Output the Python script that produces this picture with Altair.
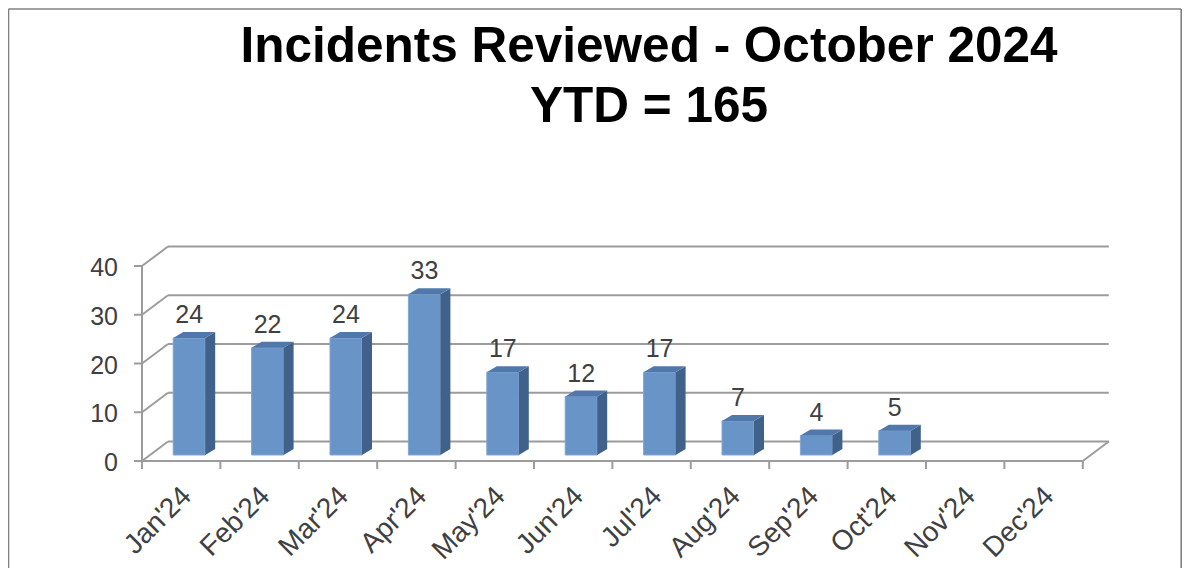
import altair as alt
import pandas as pd

# ---------------- data ----------------
months = ["Jan'24", "Feb'24", "Mar'24", "Apr'24", "May'24", "Jun'24",
          "Jul'24", "Aug'24", "Sep'24", "Oct'24", "Nov'24", "Dec'24"]
values = [24, 22, 24, 33, 17, 12, 17, 7, 4, 5, None, None]
y_ticks = [0, 10, 20, 30, 40]
title_line1 = "Incidents Reviewed - October 2024"
title_line2 = "YTD = 165"

# ---------------- geometry / style constants ----------------
W, H = 1174, 560          # plot frame (= whole bordered chart)
KX, KY = 78.4, 4.875      # px per month, px per count
X0, Y0 = 134, 453         # frame px of front-left floor corner
DX, DY = 26 / KX, 19.5 / KY   # wall depth (in data units)
BW = 32 / KX                  # bar width
FX, FY = 8 / KX, 6 / KY       # bar front-face depth offset
SX, SY = 10 / KX, 6 / KY      # bar depth
N = len(months)

GRID = "#9c9c9c"
TXT = "#404040"
FRONT, SIDE, TOP = "#6894c8", "#40618a", "#5078aa"
FONT = "Liberation Sans"

XMIN, XMAX = -X0 / KX, (W - X0) / KX
YMIN, YMAX = -(H - Y0) / KY, Y0 / KY
xs = alt.Scale(domain=[XMIN, XMAX], nice=False, zero=False)
ys = alt.Scale(domain=[YMIN, YMAX], nice=False, zero=False)

# ---------------- outer border (left, top, right) ----------------
XL, XR, YT = XMIN + 0.5 / KX, XMAX - 0.8 / KX, YMAX - 1 / KY
border = pd.DataFrame([
    dict(x=XL, y=YMIN, x2=XL, y2=YT),
    dict(x=XL, y=YT, x2=XR, y2=YT),
    dict(x=XR, y=YMIN, x2=XR, y2=YT),
])
frame = alt.Chart(border).mark_rule(color="#808080", strokeWidth=1.6).encode(
    x=alt.X("x:Q", scale=xs, axis=None),
    y=alt.Y("y:Q", scale=ys, axis=None),
    x2="x2:Q", y2="y2:Q",
)

# ---------------- 3D frame lines ----------------
segs = []
for g in y_ticks:
    segs.append(dict(x=DX, y=g + DY, x2=N + DX, y2=g + DY))   # back wall grid
    segs.append(dict(x=0, y=g, x2=DX, y2=g + DY))             # side wall grid
    segs.append(dict(x=0, y=g, x2=-8 / KX, y2=g))             # y ticks
segs.append(dict(x=0, y=0, x2=N, y2=0))                       # front floor edge
segs.append(dict(x=N, y=0, x2=N + DX, y2=DY))                 # right floor edge
segs.append(dict(x=0, y=0, x2=0, y2=y_ticks[-1]))             # vertical axis
for i in range(N + 1):
    segs.append(dict(x=i, y=0, x2=i, y2=-8 / KY))             # x ticks
segs = pd.DataFrame(segs)

lines = alt.Chart(segs).mark_rule(color=GRID, strokeWidth=2).encode(
    x=alt.X("x:Q", scale=xs, axis=None),
    y=alt.Y("y:Q", scale=ys, axis=None),
    x2="x2:Q",
    y2="y2:Q",
)

# ---------------- bars ----------------
rows = []
for i, (m, v) in enumerate(zip(months, values)):
    if v is None:
        continue
    xl = i + 0.5 - BW / 2 + FX
    rows.append(dict(month=m, value=v, xl=xl, xr=xl + BW, yb=FY, yt=v + FY,
                     xc=xl + BW / 2, ylab=v + FY + SY))
bars = pd.DataFrame(rows)

side_rows, top_rows = [], []
for r in rows:
    side_rows.append(dict(month=r["month"], x=r["xr"], lo=r["yb"], hi=r["yt"]))
    side_rows.append(dict(month=r["month"], x=r["xr"] + SX, lo=r["yb"] + SY, hi=r["yt"] + SY))
    vt = r["yt"]
    top_rows.append(dict(month=r["month"], x=r["xl"], lo=vt, hi=vt))
    top_rows.append(dict(month=r["month"], x=r["xl"] + SX, lo=vt, hi=vt + SY))
    top_rows.append(dict(month=r["month"], x=r["xr"], lo=vt, hi=vt + SY))
    top_rows.append(dict(month=r["month"], x=r["xr"] + SX, lo=vt + SY, hi=vt + SY))
side = pd.DataFrame(side_rows)
top = pd.DataFrame(top_rows)

front_face = alt.Chart(bars).mark_rect(
    color=FRONT, stroke="#82a6d3", strokeWidth=1
).encode(
    x=alt.X("xl:Q", scale=xs, axis=None), x2="xr:Q",
    y=alt.Y("yb:Q", scale=ys, axis=None), y2="yt:Q",
)
side_face = alt.Chart(side).mark_area(color=SIDE, orient="vertical").encode(
    x=alt.X("x:Q", scale=xs, axis=None),
    y=alt.Y("lo:Q", scale=ys, axis=None, stack=None), y2="hi:Q",
    detail="month:N",
)
top_face = alt.Chart(top).mark_area(color=TOP, orient="vertical").encode(
    x=alt.X("x:Q", scale=xs, axis=None),
    y=alt.Y("lo:Q", scale=ys, axis=None, stack=None), y2="hi:Q",
    detail="month:N",
)

value_labels = alt.Chart(bars).mark_text(
    font=FONT, fontSize=25, color=TXT, baseline="alphabetic", dy=-9
).encode(
    x=alt.X("xc:Q", scale=xs, axis=None),
    y=alt.Y("ylab:Q", scale=ys, axis=None),
    text="value:Q",
)

# ---------------- axis labels ----------------
ylab = pd.DataFrame({"v": y_ticks, "x0": [0] * len(y_ticks)})
y_labels = alt.Chart(ylab).mark_text(
    font=FONT, fontSize=25, color=TXT, align="right", baseline="middle", dx=-24, dy=2
).encode(
    x=alt.X("x0:Q", scale=xs, axis=None),
    y=alt.Y("v:Q", scale=ys, axis=None),
    text="v:Q",
)

mlab = pd.DataFrame({
    "month": months,
    "mx": [i + 0.5 + 6 / KX for i in range(N)],
    "my": [-31 / KY] * N,
})
x_labels = alt.Chart(mlab).mark_text(
    font=FONT, fontSize=28, color=TXT, align="right", baseline="middle", angle=315
).encode(
    x=alt.X("mx:Q", scale=xs, axis=None),
    y=alt.Y("my:Q", scale=ys, axis=None),
    text="month:N",
)

# ---------------- titles ----------------
t1 = alt.Chart(pd.DataFrame({"t": [title_line1]})).mark_text(
    font=FONT, fontSize=49.5, fontWeight="bold", color="#000000",
    align="center", baseline="alphabetic"
).encode(x=alt.value(641), y=alt.value(54), text="t:N")
t2 = alt.Chart(pd.DataFrame({"t": [title_line2]})).mark_text(
    font=FONT, fontSize=49.5, fontWeight="bold", color="#000000",
    align="center", baseline="alphabetic"
).encode(x=alt.value(641), y=alt.value(114), text="t:N")

chart = alt.layer(
    frame, lines, front_face, side_face, top_face, value_labels, y_labels, x_labels, t1, t2
).properties(
    width=W, height=H,
    autosize=alt.AutoSizeParams(type="none"),
    padding={"left": 0, "top": 0, "right": 1, "bottom": 0},
    background="#ffffff",
).configure_view(
    stroke=None, fill="#ffffff"
)

chart.save("out.html", embed_options={"renderer": "svg", "actions": False})
